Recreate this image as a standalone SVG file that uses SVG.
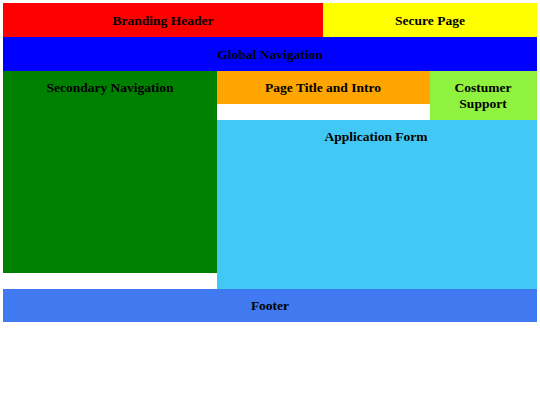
<svg xmlns="http://www.w3.org/2000/svg" width="540" height="405" viewBox="0 0 540 405">
<style>
text{font-family:"Liberation Serif","Times New Roman",serif;font-weight:bold;font-size:13.5px;fill:#000;text-anchor:middle}
</style>
<rect width="540" height="405" fill="#fff"/>
<g id="branding"><rect x="3" y="3" width="320" height="34" fill="#FF0000"/><text x="163" y="25">Branding Header</text></g>
<g id="secure"><rect x="323" y="3" width="214" height="34" fill="#FFFF00"/><text x="430" y="25">Secure Page</text></g>
<g id="globalnav"><rect x="3" y="37" width="534" height="34" fill="#0000FF"/><text x="270" y="59">Global Navigation</text></g>
<g id="secondary"><rect x="3" y="71" width="214" height="202" fill="#008000"/><text x="110" y="92">Secondary Navigation</text></g>
<g id="pagetitle"><rect x="217" y="71" width="213" height="33" fill="#FFA500"/><text x="323" y="92">Page Title and Intro</text></g>
<g id="support"><rect x="430" y="71" width="107" height="49" fill="#8FF23F"/><text x="483" y="92">Costumer</text><text x="483" y="108">Support</text></g>
<g id="form"><rect x="217" y="120" width="320" height="169" fill="#42C8F4"/><text x="376" y="141">Application Form</text></g>
<g id="footer"><rect x="3" y="289" width="534" height="33" fill="#4179F0"/><text x="270" y="310">Footer</text></g>
<g id="connectors"></g>
</svg>
